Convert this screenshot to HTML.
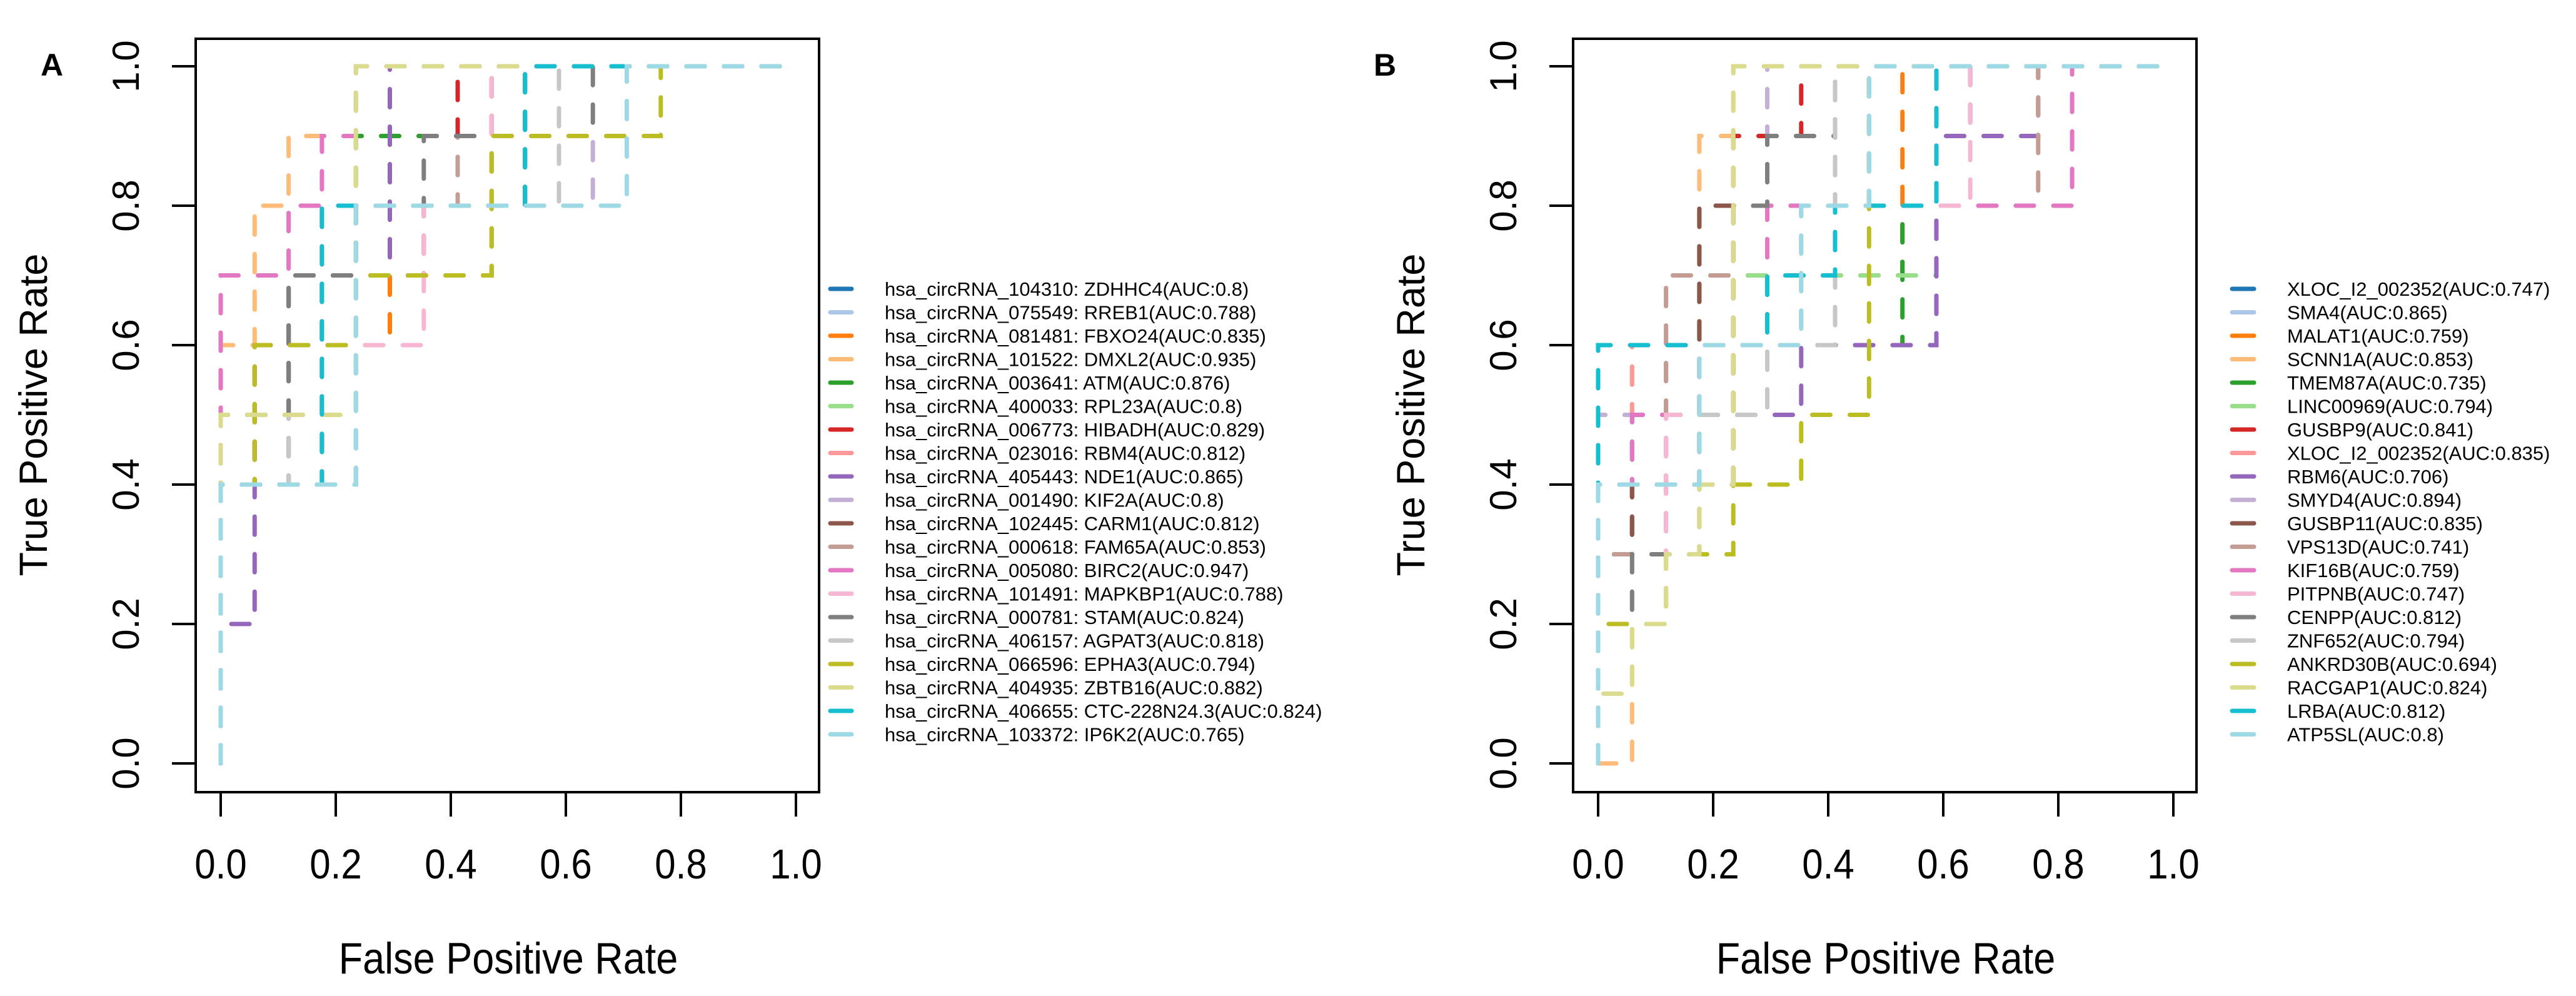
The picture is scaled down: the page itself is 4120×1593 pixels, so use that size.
<!DOCTYPE html>
<html><head><meta charset="utf-8"><style>
html,body{margin:0;padding:0;background:#fff;}
svg{display:block;font-family:"Liberation Sans",Arial,sans-serif;}
</style></head><body>
<svg id="chart" width="4120" height="1593" viewBox="0 0 4120 1593" xmlns="http://www.w3.org/2000/svg"></svg>
<script>
const xTicks = [0, 0.2, 0.4, 0.6, 0.8, 1.0];
const xTickLabels = ["0.0","0.2","0.4","0.6","0.8","1.0"];
const yTicks = [0, 0.2, 0.4, 0.6, 0.8, 1.0];
const yTickLabels = ["0.0","0.2","0.4","0.6","0.8","1.0"];

const colorsA = ["#1f77b4","#aec7e8","#ff7f0e","#ffbb78","#2ca02c","#98df8a","#d62728","#ff9896","#9467bd","#c5b0d5","#8c564b","#c49c94","#e377c2","#f7b6d2","#7f7f7f","#c7c7c7","#bcbd22","#dbdb8d","#17becf","#9edae5"];

const labelsA = ["hsa_circRNA_104310: ZDHHC4(AUC:0.8)","hsa_circRNA_075549: RREB1(AUC:0.788)","hsa_circRNA_081481: FBXO24(AUC:0.835)","hsa_circRNA_101522: DMXL2(AUC:0.935)","hsa_circRNA_003641: ATM(AUC:0.876)","hsa_circRNA_400033: RPL23A(AUC:0.8)","hsa_circRNA_006773: HIBADH(AUC:0.829)","hsa_circRNA_023016: RBM4(AUC:0.812)","hsa_circRNA_405443: NDE1(AUC:0.865)","hsa_circRNA_001490: KIF2A(AUC:0.8)","hsa_circRNA_102445: CARM1(AUC:0.812)","hsa_circRNA_000618: FAM65A(AUC:0.853)","hsa_circRNA_005080: BIRC2(AUC:0.947)","hsa_circRNA_101491: MAPKBP1(AUC:0.788)","hsa_circRNA_000781: STAM(AUC:0.824)","hsa_circRNA_406157: AGPAT3(AUC:0.818)","hsa_circRNA_066596: EPHA3(AUC:0.794)","hsa_circRNA_404935: ZBTB16(AUC:0.882)","hsa_circRNA_406655: CTC-228N24.3(AUC:0.824)","hsa_circRNA_103372: IP6K2(AUC:0.765)"];

const labelsB = ["XLOC_I2_002352(AUC:0.747)","SMA4(AUC:0.865)","MALAT1(AUC:0.759)","SCNN1A(AUC:0.853)","TMEM87A(AUC:0.735)","LINC00969(AUC:0.794)","GUSBP9(AUC:0.841)","XLOC_I2_002352(AUC:0.835)","RBM6(AUC:0.706)","SMYD4(AUC:0.894)","GUSBP11(AUC:0.835)","VPS13D(AUC:0.741)","KIF16B(AUC:0.759)","PITPNB(AUC:0.747)","CENPP(AUC:0.812)","ZNF652(AUC:0.794)","ANKRD30B(AUC:0.694)","RACGAP1(AUC:0.824)","LRBA(AUC:0.812)","ATP5SL(AUC:0.8)"];

const rocA = [
 [[0,0],[0,0.4],[0.235,0.4],[0.235,0.8],[0.471,0.8],[0.471,1],[1,1]],
 [[0,0],[0,0.4],[0.235,0.4],[0.235,0.8],[0.529,0.8],[0.529,1],[1,1]],
 [[0,0],[0,0.4],[0.059,0.4],[0.059,0.6],[0.294,0.6],[0.294,0.9],[0.471,0.9],[0.471,1],[1,1]],
 [[0,0],[0,0.6],[0.059,0.6],[0.059,0.8],[0.118,0.8],[0.118,0.9],[0.294,0.9],[0.294,1],[1,1]],
 [[0,0],[0,0.5],[0.118,0.5],[0.118,0.7],[0.235,0.7],[0.235,0.9],[0.471,0.9],[0.471,1],[1,1]],
 [[0,0],[0,0.4],[0.176,0.4],[0.176,0.7],[0.471,0.7],[0.471,1],[1,1]],
 [[0,0],[0,0.4],[0.176,0.4],[0.176,0.8],[0.412,0.8],[0.412,1],[1,1]],
 [[0,0],[0,0.5],[0.176,0.5],[0.176,0.7],[0.471,0.7],[0.471,1],[1,1]],
 [[0,0],[0,0.2],[0.059,0.2],[0.059,0.6],[0.176,0.6],[0.176,0.7],[0.294,0.7],[0.294,1],[1,1]],
 [[0,0],[0,0.4],[0.118,0.4],[0.118,0.7],[0.353,0.7],[0.353,0.8],[0.647,0.8],[0.647,0.9],[0.706,0.9],[0.706,1],[1,1]],
 [[0,0],[0,0.4],[0.118,0.4],[0.118,0.7],[0.353,0.7],[0.353,0.8],[0.529,0.8],[0.529,1],[1,1]],
 [[0,0],[0,0.5],[0.059,0.5],[0.059,0.6],[0.235,0.6],[0.235,0.8],[0.412,0.8],[0.412,0.9],[0.471,0.9],[0.471,1],[1,1]],
 [[0,0],[0,0.7],[0.118,0.7],[0.118,0.8],[0.176,0.8],[0.176,0.9],[0.235,0.9],[0.235,1],[1,1]],
 [[0,0],[0,0.4],[0.235,0.4],[0.235,0.6],[0.353,0.6],[0.353,0.8],[0.471,0.8],[0.471,1],[1,1]],
 [[0,0],[0,0.4],[0.059,0.4],[0.059,0.5],[0.118,0.5],[0.118,0.7],[0.235,0.7],[0.235,0.8],[0.353,0.8],[0.353,0.9],[0.647,0.9],[0.647,1],[1,1]],
 [[0,0],[0,0.4],[0.118,0.4],[0.118,0.5],[0.176,0.5],[0.176,0.8],[0.588,0.8],[0.588,1],[1,1]],
 [[0,0],[0,0.4],[0.059,0.4],[0.059,0.6],[0.235,0.6],[0.235,0.7],[0.471,0.7],[0.471,0.9],[0.765,0.9],[0.765,1],[1,1]],
 [[0,0],[0,0.5],[0.235,0.5],[0.235,1],[1,1]],
 [[0,0],[0,0.4],[0.176,0.4],[0.176,0.8],[0.529,0.8],[0.529,1],[1,1]],
 [[0,0],[0,0.4],[0.235,0.4],[0.235,0.8],[0.706,0.8],[0.706,1],[1,1]]
];

const rocB = [
 [[0,0],[0,0.4],[0.118,0.4],[0.118,0.6],[0.588,0.6],[0.588,0.9],[0.647,0.9],[0.647,1],[1,1]],
 [[0,0],[0,0.4],[0.118,0.4],[0.118,0.7],[0.294,0.7],[0.294,1],[1,1]],
 [[0,0],[0,0.4],[0.235,0.4],[0.235,0.7],[0.529,0.7],[0.529,1],[1,1]],
 [[0,0],[0.059,0],[0.059,0.3],[0.176,0.3],[0.176,0.9],[0.235,0.9],[0.235,1],[1,1]],
 [[0,0],[0,0.4],[0.176,0.4],[0.176,0.6],[0.529,0.6],[0.529,0.8],[0.588,0.8],[0.588,1],[1,1]],
 [[0,0],[0,0.5],[0.059,0.5],[0.059,0.6],[0.176,0.6],[0.176,0.7],[0.588,0.7],[0.588,1],[1,1]],
 [[0,0],[0,0.3],[0.059,0.3],[0.059,0.4],[0.235,0.4],[0.235,0.9],[0.353,0.9],[0.353,1],[1,1]],
 [[0,0],[0,0.5],[0.059,0.5],[0.059,0.6],[0.294,0.6],[0.294,0.8],[0.471,0.8],[0.471,1],[1,1]],
 [[0,0],[0,0.3],[0.059,0.3],[0.059,0.5],[0.353,0.5],[0.353,0.6],[0.588,0.6],[0.588,0.9],[0.765,0.9],[0.765,1],[1,1]],
 [[0,0],[0,0.5],[0.176,0.5],[0.176,0.8],[0.294,0.8],[0.294,1],[1,1]],
 [[0,0],[0,0.3],[0.059,0.3],[0.059,0.4],[0.176,0.4],[0.176,0.8],[0.412,0.8],[0.412,1],[1,1]],
 [[0,0],[0,0.3],[0.118,0.3],[0.118,0.7],[0.235,0.7],[0.235,0.8],[0.765,0.8],[0.765,1],[1,1]],
 [[0,0],[0,0.4],[0.059,0.4],[0.059,0.5],[0.176,0.5],[0.176,0.6],[0.294,0.6],[0.294,0.8],[0.824,0.8],[0.824,1],[1,1]],
 [[0,0],[0,0.2],[0.118,0.2],[0.118,0.5],[0.176,0.5],[0.176,0.6],[0.353,0.6],[0.353,0.8],[0.647,0.8],[0.647,1],[1,1]],
 [[0,0],[0,0.2],[0.059,0.2],[0.059,0.3],[0.176,0.3],[0.176,0.4],[0.235,0.4],[0.235,0.8],[0.294,0.8],[0.294,0.9],[0.412,0.9],[0.412,1],[1,1]],
 [[0,0],[0,0.4],[0.176,0.4],[0.176,0.5],[0.294,0.5],[0.294,0.6],[0.412,0.6],[0.412,1],[1,1]],
 [[0,0],[0,0.2],[0.118,0.2],[0.118,0.3],[0.235,0.3],[0.235,0.4],[0.353,0.4],[0.353,0.5],[0.471,0.5],[0.471,1],[1,1]],
 [[0,0],[0,0.1],[0.059,0.1],[0.059,0.2],[0.118,0.2],[0.118,0.3],[0.176,0.3],[0.176,0.4],[0.235,0.4],[0.235,1],[1,1]],
 [[0,0],[0,0.6],[0.294,0.6],[0.294,0.7],[0.412,0.7],[0.412,0.8],[0.588,0.8],[0.588,1],[1,1]],
 [[0,0],[0,0.4],[0.176,0.4],[0.176,0.6],[0.353,0.6],[0.353,0.8],[0.471,0.8],[0.471,1],[1,1]]
];

const NS = "http://www.w3.org/2000/svg";
const svg = document.getElementById('chart');
function mk(tag, attrs, parent){
  const e = document.createElementNS(NS, tag);
  for (const k in attrs) e.setAttribute(k, attrs[k]);
  (parent||svg).appendChild(e);
  return e;
}

function panel(off, letter, letterX, roc, labels, legLineX1, legLineX2, legTextX){
  const g = mk('g', {});
  
  
  const X0 = 353 + off, X1 = 1273 + off, Y0 = 1221, Y1 = 106;
  const sx = v => X0 + v * (X1 - X0);
  const sy = v => Y0 - v * (Y0 - Y1);
  const boxL = 313 + off, boxR = 1310 + off, boxT = 62, boxB = 1267;

  const lab = mk('text', {x: letterX, y: 121, 'font-size': 50, 'font-weight': 'bold', 'text-anchor': 'middle', fill: '#000'}, g);
  lab.textContent = letter;
  
  

  const cg = mk('g', {}, g);
  
  
  roc.forEach((pts, i) => {
    const d = pts.map((p, j) => (j ? 'L' : 'M') + sx(p[0]).toFixed(1) + ' ' + sy(p[1]).toFixed(1)).join(' ');
    const path = mk('path', {d: d, fill: 'none', stroke: colorsA[i], 'stroke-width': 7, 'stroke-dasharray': '29 31', 'stroke-linecap': 'round'}, cg);
    
    
  });

  const box = mk('rect', {x: boxL, y: boxT, width: boxR - boxL, height: boxB - boxT, fill: 'none', stroke: '#000', 'stroke-width': 4}, g);
  
  

  const xa = mk('g', {}, g);
  
  
  mk('line', {x1: sx(xTicks[0]), x2: sx(xTicks[xTicks.length-1]), y1: boxB, y2: boxB, stroke: '#000', 'stroke-width': 4}, xa);
  xTicks.forEach((t, i) => {
    mk('line', {x1: sx(t), x2: sx(t), y1: boxB, y2: boxB + 39, stroke: '#000', 'stroke-width': 4}, xa);
    const tx = mk('text', {x: 0, y: 0, 'font-size': 60, 'text-anchor': 'middle', fill: '#000', transform: 'translate(' + sx(t) + ',1405) scale(1,1.12)'}, xa);
    tx.textContent = xTickLabels[i];
    
    
  });
  const xt = mk('text', {x: 0, y: 0, 'font-size': 63, 'text-anchor': 'middle', fill: '#000', transform: 'translate(' + ((X0 + X1) / 2) + ',1557) scale(1,1.12)'}, g);
  xt.textContent = 'False Positive Rate';
  
  

  const ya = mk('g', {}, g);
  
  
  yTicks.forEach((t, i) => {
    mk('line', {x1: boxL - 38, x2: boxL, y1: sy(t), y2: sy(t), stroke: '#000', 'stroke-width': 4}, ya);
    const tx = mk('text', {x: 0, y: 0, 'font-size': 60, 'text-anchor': 'middle', fill: '#000', transform: 'translate(' + (222 + off) + ',' + sy(t) + ') rotate(-90)'}, ya);
    tx.textContent = yTickLabels[i];
    
    
  });
  const yt = mk('text', {x: 0, y: 0, 'font-size': 63, 'text-anchor': 'middle', fill: '#000', transform: 'translate(' + (75 + off) + ',' + ((Y0 + Y1) / 2) + ') rotate(-90)'}, g);
  yt.textContent = 'True Positive Rate';
  
  

  const lg = mk('g', {}, g);
  
  
  labels.forEach((l, i) => {
    const yy = 462 + i * 37.5;
    const ent = mk('g', {}, lg);
    
    
    mk('line', {x1: legLineX1, x2: legLineX2, y1: yy, y2: yy, stroke: colorsA[i], 'stroke-width': 7, 'stroke-linecap': 'round'}, ent);
    const tx = mk('text', {x: legTextX, y: yy + 11, 'font-size': 31, fill: '#000'}, ent);
    tx.textContent = l;
  });
}

panel(0, 'A', 83, rocA, labelsA, 1328, 1362, 1415);
panel(2203, 'B', 2215, rocB, labelsB, 3570, 3605, 3658);
</script>
</body></html>
